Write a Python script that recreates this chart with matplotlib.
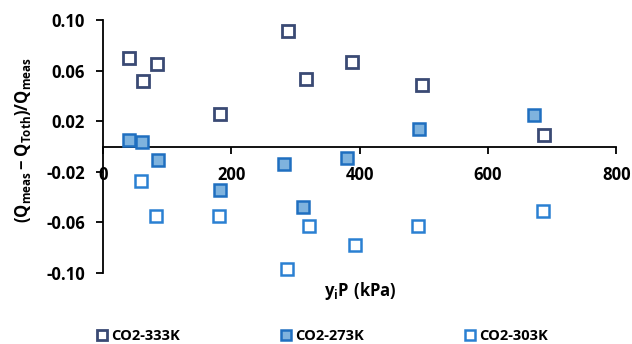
import matplotlib.pyplot as plt

plt.rcParams['font.family'] = ['Open Sans', 'DejaVu Sans']
plt.rcParams['font.weight'] = 'bold'
plt.rcParams['mathtext.fontset'] = 'custom'
plt.rcParams['mathtext.rm'] = 'Open Sans:bold'
plt.rcParams['mathtext.it'] = 'Open Sans:bold'
plt.rcParams['mathtext.bf'] = 'Open Sans:bold'

# CO2 at 333 K
p_333 = [40, 63, 84, 182, 288, 317, 388, 497, 688]
err_333 = [0.070, 0.0515, 0.0655, 0.026, 0.091, 0.053, 0.067, 0.049, 0.0095]

# CO2 at 273 K
p_273 = [40, 61, 86, 183, 282, 312, 381, 492, 672]
err_273 = [0.0048, 0.0034, -0.0105, -0.0346, -0.0137, -0.0478, -0.009, 0.014, 0.0246]

# CO2 at 303 K
p_303 = [59, 82, 181, 287, 321, 393, 491, 686]
err_303 = [-0.0275, -0.0547, -0.0547, -0.0969, -0.0626, -0.0779, -0.0626, -0.0512]

yticks = [0.10, 0.06, 0.02, -0.02, -0.06, -0.10]
xticks = [0, 200, 400, 600, 800]

fig = plt.figure(figsize=(6.32, 3.44), dpi=100)
ax = fig.add_axes([0.163, 0.206, 0.812, 0.736])

ax.plot(p_333, err_333, 's', ms=9, mfc='white', mec='#3A4A74', mew=2.0,
        label='CO2-333K', zorder=3, clip_on=False)
ax.plot(p_273, err_273, 's', ms=9, mfc='#7FB3DE', mec='#1F6FC0', mew=1.8,
        label='CO2-273K', zorder=3, clip_on=False)
ax.plot(p_303, err_303, 's', ms=9, mfc='white', mec='#2A80D2', mew=1.8,
        label='CO2-303K', zorder=3, clip_on=False)

ax.set_xlim(0, 800)
ax.set_ylim(-0.10, 0.10)
ax.set_xticks(xticks)
ax.set_yticks(yticks)
ax.set_yticklabels([f'{v:.2f}' for v in yticks])

ax.spines['top'].set_visible(False)
ax.spines['right'].set_visible(False)
ax.spines['bottom'].set_position(('data', 0))
ax.spines['left'].set_linewidth(1.3)
ax.spines['bottom'].set_linewidth(1.3)
ax.tick_params(axis='both', direction='out', length=5, width=1.3, labelsize=12)
ax.tick_params(axis='x', pad=9)
ax.tick_params(axis='y', pad=8)

fig.text(0.036, 0.593, r'$\mathbf{(Q_{meas} - Q_{Toth})/Q_{meas}}$', fontsize=12,
         rotation=90, ha='center', va='center')
fig.text(0.57, 0.155, r'$\mathbf{y_{i}P\ (kPa)}$', fontsize=12, ha='center', va='center')

fig.legend(loc='lower left', bbox_to_anchor=(0.132, -0.035), ncol=3, frameon=False,
           fontsize=10.5, handletextpad=0.2, columnspacing=6.9, handlelength=0.8,
           markerscale=0.85)

fig.savefig('out.png', dpi=100)
